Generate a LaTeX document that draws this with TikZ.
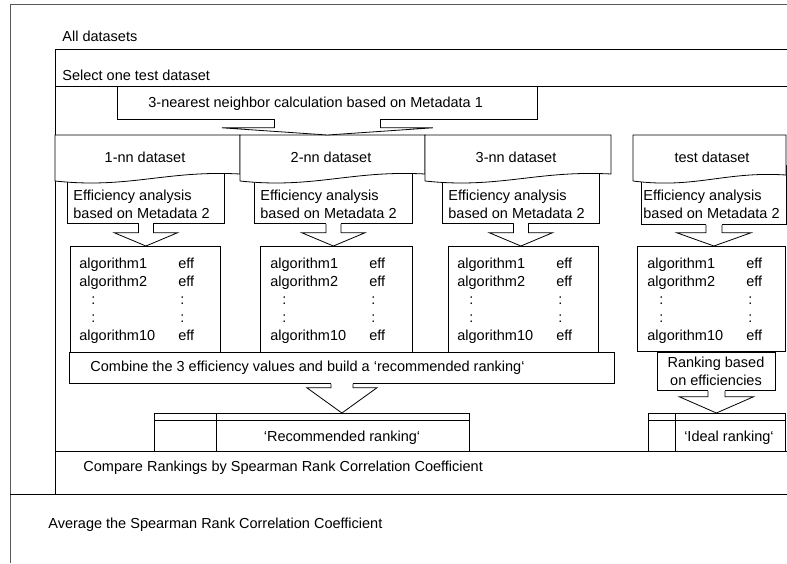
\documentclass[tikz,border=0pt]{standalone}
\usepackage{fontspec}
\setmainfont{Liberation Sans}
\usetikzlibrary{calc}
\tikzset{
  box/.style={draw,fill=white,inner sep=0pt,anchor=north west},
  txt/.style={inner sep=0pt,anchor=base west},
  ctxt/.style={inner sep=0pt,anchor=base},
  frame/.style={black!65,line width=0.8pt},
  loopline/.style={line width=1pt},
  arrowshape/.style={draw,fill=white,line join=miter},
}
% block arrow: #1 from, #2 to, #3 shaft half width, #4 head half width, #5 shaft length
\newcommand{\blockarrow}[5]{%
  \fill[white] ($(#1)+(-#3+0.4,-0.7)$) rectangle ($(#1)+(#3-0.4,#5)$);
  \draw[arrowshape] ($(#1)+(-#3,0)$) -- ++(0,#5) -- ++(#3-#4,0) -- (#1 |- #2)
    -- ($(#1)+(#4,#5)$) -- ++(#3-#4,0) -- ++(0,-#5);}
\newcommand{\effanalysis}{\begin{tabular}[t]{@{}l@{}}Efficiency analysis\\based on Metadata 2\end{tabular}}
\newcommand{\algtable}{\begin{tabular}[t]{@{}p{99pt}@{}l@{}}
algorithm1 & eff\\
algorithm2 & eff\\
\hspace{12pt}: & \hspace{2pt}:\\
\hspace{12pt}: & \hspace{2pt}:\\
algorithm10 & eff
\end{tabular}}
\begin{document}
\begin{tikzpicture}[x=1pt,y=-1pt,line width=0.8pt,font=\fontsize{14.5}{18}\selectfont]
\useasboundingbox (0,0) rectangle (787,563);
% loops
\draw[frame] (787,4) -- (10,4) -- (10,563);
\draw[loopline] (787,49) -- (55,49) -- (55,494);
\draw[loopline] (10,494) -- (787,494);
\draw (55,86) -- (787,86);
\draw (55,451) -- (787,451);
\node[txt] (alldata) at (62,41.5) {All datasets};
\node[txt] (select) at (62,80) {Select one test dataset};
\node[txt] (compare) at (83,471) {Compare Rankings by Spearman Rank Correlation Coefficient};
\node[txt] (average) at (48,528.5) {Average the Spearman Rank Correlation Coefficient};
% nearest neighbours
\node[box,minimum width=420pt,minimum height=33pt] (knn) at (117,86) {};
\node[txt] (knntext) at (148,107.5) {3-nearest neighbor calculation based on Metadata 1};
\coordinate (dstop) at (0,135);
% efficiency analysis
\node[box,minimum width=157pt,minimum height=58pt] (eff1) at (67,165) {};
\node[box,minimum width=158pt,minimum height=58pt] (eff2) at (254,165) {};
\node[box,minimum width=157pt,minimum height=58pt] (eff3) at (442,165) {};
\node[box,minimum width=145pt,minimum height=59pt] (eff4) at (641,165) {};
% datasets
\draw[fill=white] (55,181) -- (55,135) -- (240,135) -- (240,174) .. controls (166,170) and (129,189) .. (55,181);
\draw[fill=white] (240,181) -- (240,135) -- (425,135) -- (425,174) .. controls (351,170) and (314,189) .. (240,181);
\draw[fill=white] (425,181) -- (425,135) -- (611,135) -- (611,174) .. controls (537,170) and (499,189) .. (425,181);
\draw[fill=white] (633,181) -- (633,135) -- (786,135) -- (786,175) .. controls (725,171) and (695,189) .. (633,181);
\node[ctxt] (ds1) at (145,162.5) {1-nn dataset};
\node[ctxt] (ds2) at (331,162.5) {2-nn dataset};
\node[ctxt] (ds3) at (516,162.5) {3-nn dataset};
\node[ctxt] (dstest) at (712,162.5) {test dataset};
\node[txt] (eff1text) at (73,200.5) {\effanalysis};
\node[txt] (eff2text) at (260,200.5) {\effanalysis};
\node[txt] (eff3text) at (448,200.5) {\effanalysis};
\node[txt] (eff4text) at (643,200.5) {\effanalysis};
% algorithm lists
\node[box,minimum width=150pt,minimum height=106pt] (alg1) at (70,246) {};
\node[box,minimum width=152pt,minimum height=106pt] (alg2) at (260,246) {};
\node[box,minimum width=150pt,minimum height=106pt] (alg3) at (448,246) {};
\node[box,minimum width=148pt,minimum height=105pt] (alg4) at (637,246) {};
\node[txt] (alg1text) at (79,268.5) {\algtable};
\node[txt] (alg2text) at (270,268.5) {\algtable};
\node[txt] (alg3text) at (457,268.5) {\algtable};
\node[txt] (alg4text) at (647,268.5) {\algtable};
% rankings
\node[box,minimum width=545pt,minimum height=31pt] (combine) at (69,352) {};
\node[txt] (combinetext) at (90,371) {Combine the 3 efficiency values and build a ‘recommended ranking‘};
\node[box,minimum width=118pt,minimum height=38pt] (rankeff) at (657,352) {};
\node[ctxt] (rankefftext) at (716,367.5) {\begin{tabular}[t]{@{}c@{}}Ranking based\\on efficiencies\end{tabular}};
\node[box,minimum width=315pt,minimum height=38pt] (recrank) at (154,413) {};
\draw (recrank.north west) ++(0,7.5) -- ++(315,0);
\draw (216,413) -- (216,451);
\node[ctxt] (recranktext) at (342,441) {‘Recommended ranking‘};
\node[box,minimum width=137pt,minimum height=38pt] (idealrank) at (648,413) {};
\draw (idealrank.north west) ++(0,7.5) -- ++(137,0);
\draw (675,413) -- (675,451);
\node[ctxt] (idealranktext) at (729,441) {‘Ideal ranking‘};
% block arrows
\blockarrow{knn.south}{dstop}{53}{105.5}{8}
\blockarrow{eff1.south}{alg1.north}{7.5}{31.5}{9}
\blockarrow{eff2.south}{alg2.north}{7.5}{31.5}{9}
\blockarrow{eff3.south}{alg3.north}{7.5}{31.5}{9}
\blockarrow{eff4.south}{alg4.north}{8}{37}{8}
\blockarrow{combine.south}{recrank.north}{11}{35}{4}
\blockarrow{rankeff.south}{idealrank.north}{8.5}{37}{6}
\end{tikzpicture}
\end{document}
